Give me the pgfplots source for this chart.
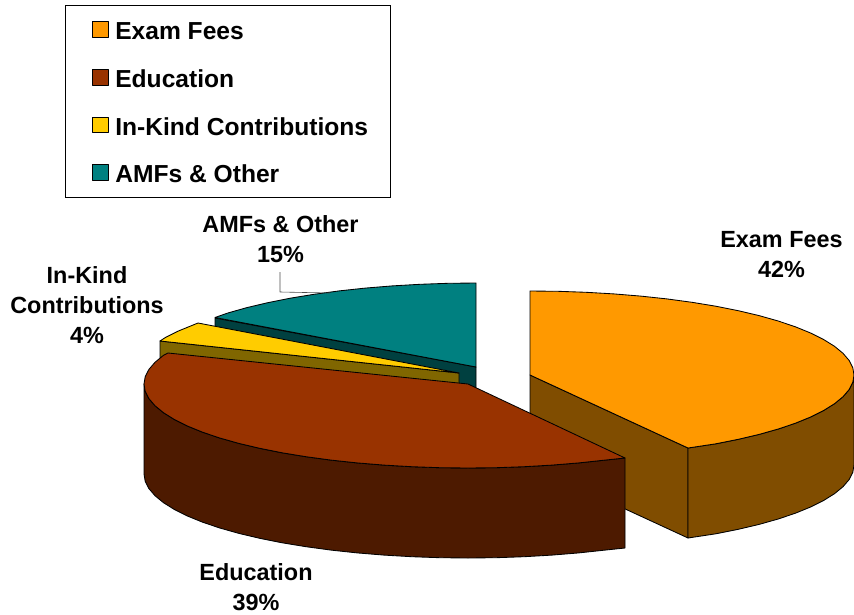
\documentclass[border=0pt]{standalone}
\usepackage{fontspec}
\setmainfont{Liberation Sans}
\usepackage{pgfplots}
\pgfplotsset{compat=1.18}
\definecolor{cOrange}{HTML}{FF9900}
\definecolor{cOrangeD}{HTML}{804D00}
\definecolor{cBrown}{HTML}{993300}
\definecolor{cBrownD}{HTML}{4D1A00}
\definecolor{cYellow}{HTML}{FFCC00}
\definecolor{cYellowD}{HTML}{806600}
\definecolor{cTeal}{HTML}{008080}
\definecolor{cTealD}{HTML}{004040}
\newcommand{\lab}{\fontsize{23.4}{30}\selectfont\bfseries}
\begin{document}
\begin{tikzpicture}
\path[use as bounding box] (0,0) rectangle (854pt,614pt);
\begin{axis}[
  at={(0,0)}, anchor=south west,
  scale only axis, width=854pt, height=614pt,
  xmin=0, xmax=854, ymin=0, ymax=614, y dir=reverse,
  hide axis, clip=false,
  every axis plot/.append style={line width=0.85pt, draw=black, line join=round},
  legend image code/.code={\path[draw=none,fill=none] (0pt,0pt) -- (1pt,0pt);\draw[#1,line width=1pt,draw=black] (5pt,-7.5pt) rectangle (20.5pt,8pt);},
  legend style={
    at={(axis cs:65,5)}, anchor=north west,
    draw=black, line width=0.8pt,
    inner xsep=22.5pt, inner ysep=13pt,
    row sep=24.6pt,
    column sep=6.4pt,
    font=\fontsize{24.6}{30}\selectfont\bfseries,
    cells={anchor=west},
    nodes={inner sep=0pt, text height=21.5pt, text depth=1.5pt},
  },
]
\addlegendimage{fill=cOrange}\addlegendentry{Exam Fees}
\addlegendimage{fill=cBrown}\addlegendentry{Education}
\addlegendimage{fill=cYellow}\addlegendentry{In-Kind Contributions}
\addlegendimage{fill=cTeal}\addlegendentry{AMFs \& Other}

% AMFs & Other
\addplot[fill=cTealD,forget plot] coordinates {(476,367)(215,318)(215,408)(476,457)} -- cycle;
\addplot[fill=cTeal,forget plot] coordinates {(476,367)(476,283)(447.8,283.3)(419.8,284.3)(392.1,285.9)(365.2,288.1)(339.1,290.9)(314,294.3)(290.2,298.2)(267.7,302.7)(246.9,307.6)(227.8,313)(215,317.5)} -- cycle;
% In-Kind
\addplot[fill=cYellowD,forget plot] coordinates {(459,373)(160,341)(160,431)(459,463)} -- cycle;
\addplot[fill=cYellow,forget plot] coordinates {(459,373)(160,341)(165.4,337.5)(178.4,331)(193.6,324.8)(198,323)} -- cycle;
% Exam Fees
\addplot[fill=cOrangeD,forget plot] coordinates {(530,375)(688,448)(688,538)(530,465)} -- cycle;
\addplot[fill=cOrangeD,forget plot] coordinates {(688,448)(715.8,443.8)(738.3,439.3)(759.1,434.4)(778.2,429)(795.4,423.2)(810.6,417)(823.6,410.5)(834.5,403.7)(843,396.7)(849.1,389.6)(852.8,382.3)(854,375)(854,465)(852.8,472.3)(849.1,479.6)(843,486.7)(834.5,493.7)(823.6,500.5)(810.6,507)(795.4,513.2)(778.2,519)(759.1,524.4)(738.3,529.3)(715.8,533.8)(688,538)} -- cycle;
\addplot[fill=cOrange,forget plot] coordinates {(530,375)(530,291)(558.2,291.3)(586.2,292.3)(613.9,293.9)(640.8,296.1)(666.9,298.9)(692,302.3)(715.8,306.2)(738.3,310.7)(759.1,315.6)(778.2,321)(795.4,326.8)(810.6,333)(823.6,339.5)(834.5,346.3)(843,353.3)(849.1,360.4)(852.8,367.7)(854,375)(852.8,382.3)(849.1,389.6)(843,396.7)(834.5,403.7)(823.6,410.5)(810.6,417)(795.4,423.2)(778.2,429)(759.1,434.4)(738.3,439.3)(715.8,443.8)(688,448)} -- cycle;
% Education
\addplot[fill=cBrownD,forget plot] coordinates {(625,458)(604.9,460.1)(578.8,462.9)(551.9,465.1)(524.2,466.7)(496.2,467.7)(468,468)(439.8,467.7)(411.8,466.7)(384.1,465.1)(357.2,462.9)(331.1,460.1)(306,456.7)(282.2,452.8)(259.7,448.3)(238.9,443.4)(219.8,438)(202.6,432.2)(187.4,426)(174.4,419.5)(163.5,412.7)(155,405.7)(148.9,398.6)(145.2,391.3)(144,384)(144,474)(145.2,481.3)(148.9,488.6)(155,495.7)(163.5,502.7)(174.4,509.5)(187.4,516)(202.6,522.2)(219.8,528)(238.9,533.4)(259.7,538.3)(282.2,542.8)(306,546.7)(331.1,550.1)(357.2,552.9)(384.1,555.1)(411.8,556.7)(439.8,557.7)(468,558)(496.2,557.7)(524.2,556.7)(551.9,555.1)(578.8,552.9)(604.9,550.1)(625,548)} -- cycle;
\addplot[fill=cBrown,forget plot] coordinates {(468,384)(625,458)(604.9,460.1)(578.8,462.9)(551.9,465.1)(524.2,466.7)(496.2,467.7)(468,468)(439.8,467.7)(411.8,466.7)(384.1,465.1)(357.2,462.9)(331.1,460.1)(306,456.7)(282.2,452.8)(259.7,448.3)(238.9,443.4)(219.8,438)(202.6,432.2)(187.4,426)(174.4,419.5)(163.5,412.7)(155,405.7)(148.9,398.6)(145.2,391.3)(144,384)(145.2,376.7)(148.9,369.4)(155,362.3)(163.5,355.3)(168,353)} -- cycle;
% leader line
\addplot[line width=0.6pt,draw=black!70,forget plot] coordinates {(280,272)(280,292)(330,293)};

\node[align=center,font=\lab,anchor=center] at (axis cs:781.5,255) {Exam Fees\\42\%};
\node[align=center,font=\lab,anchor=center] at (axis cs:280.5,239) {AMFs \& Other\\15\%};
\node[align=center,font=\lab,anchor=center] at (axis cs:87,305) {In-Kind\\Contributions\\4\%};
\node[align=center,font=\lab,anchor=center] at (axis cs:256,587) {Education\\39\%};
\end{axis}
\end{tikzpicture}
\end{document}
